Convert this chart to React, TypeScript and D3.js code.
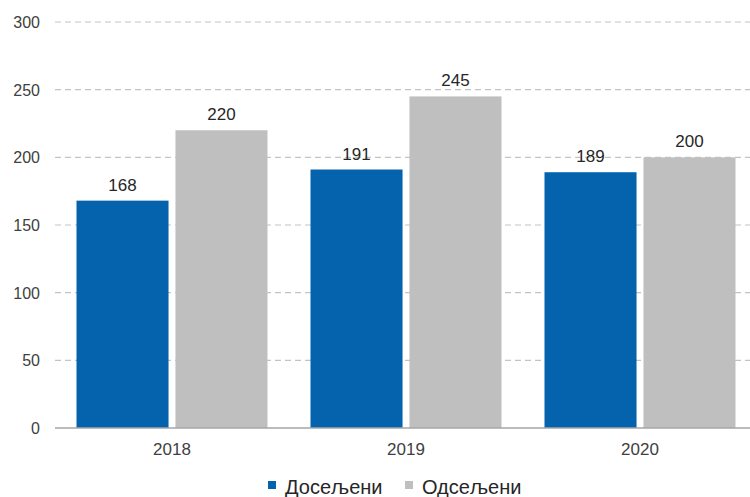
import * as d3 from 'd3'
import React, { useEffect, useRef } from 'react'

const years = ['2018', '2019', '2020']
const seriesNames = ['Досељени', 'Одсељени']
const doseljeni = [168, 191, 189]
const odseljeni = [220, 245, 200]
const yTicks = [0, 50, 100, 150, 200, 250, 300]

const colors = ['#0563AE', '#BFBFBF']

const App = () => {
  const ref = useRef(null)

  useEffect(() => {
    const width = 750
    const height = 497
    const svg = d3.select(ref.current)
    svg.selectAll('*').remove()
    svg.attr('width', width).attr('height', height)

    const font = 'Liberation Sans, Arial, sans-serif'

    const y = d3.scaleLinear().domain([0, 300]).range([428, 22])
    const x0 = d3.scaleBand().domain(years).range([55, 757])
    const x1 = d3
      .scaleBand()
      .domain(seriesNames)
      .range([21.5, 212.5])
      .paddingInner(0.07)

    // gridlines
    svg
      .append('g')
      .selectAll('line')
      .data(yTicks.filter((t) => t > 0))
      .enter()
      .append('line')
      .attr('x1', 55)
      .attr('x2', 757)
      .attr('y1', (d) => y(d))
      .attr('y2', (d) => y(d))
      .attr('stroke', '#C4C4C4')
      .attr('stroke-width', 1.2)
      .attr('stroke-dasharray', '6 4')

    // y labels
    svg
      .append('g')
      .selectAll('text')
      .data(yTicks)
      .enter()
      .append('text')
      .attr('x', 40)
      .attr('y', (d) => y(d) + 6)
      .attr('text-anchor', 'end')
      .attr('font-family', font)
      .attr('font-size', 16)
      .attr('fill', '#404040')
      .text((d) => d)

    const rows = years.map((yr, i) => ({ year: yr, values: [doseljeni[i], odseljeni[i]] }))

    const groups = svg
      .append('g')
      .selectAll('g')
      .data(rows)
      .enter()
      .append('g')
      .attr('transform', (d) => `translate(${x0(d.year)},0)`)

    groups
      .selectAll('rect')
      .data((d) => d.values.map((v, i) => ({ name: seriesNames[i], v, i })))
      .enter()
      .append('rect')
      .attr('x', (d) => x1(d.name)!)
      .attr('width', x1.bandwidth())
      .attr('y', (d) => y(d.v))
      .attr('height', (d) => y(0) - y(d.v))
      .attr('fill', (d) => colors[d.i])

    groups
      .selectAll('text')
      .data((d) => d.values.map((v, i) => ({ name: seriesNames[i], v, i })))
      .enter()
      .append('text')
      .attr('x', (d) => x1(d.name)! + x1.bandwidth() / 2)
      .attr('y', (d) => y(d.v) - 10)
      .attr('text-anchor', 'middle')
      .attr('font-family', font)
      .attr('font-size', 17)
      .attr('fill', '#262626')
      .text((d) => d.v)

    // axis line
    svg
      .append('line')
      .attr('x1', 55)
      .attr('x2', 757)
      .attr('y1', y(0))
      .attr('y2', y(0))
      .attr('stroke', '#A6A6A6')
      .attr('stroke-width', 1.5)

    // x labels
    svg
      .append('g')
      .selectAll('text')
      .data(years)
      .enter()
      .append('text')
      .attr('x', (d) => x0(d)! + x0.bandwidth() / 2)
      .attr('y', 455)
      .attr('text-anchor', 'middle')
      .attr('font-family', font)
      .attr('font-size', 17)
      .attr('fill', '#404040')
      .text((d) => d)

    // legend
    const legendX = [268, 405]
    const legend = svg
      .append('g')
      .selectAll('g')
      .data(seriesNames)
      .enter()
      .append('g')
      .attr('transform', (d, i) => `translate(${legendX[i]},0)`)
    legend
      .append('rect')
      .attr('x', 0)
      .attr('y', 481)
      .attr('width', 8)
      .attr('height', 8)
      .attr('fill', (d, i) => colors[i])
    legend
      .append('text')
      .attr('x', 17)
      .attr('y', 494)
      .attr('font-family', font)
      .attr('font-size', 20)
      .attr('fill', '#262626')
      .text((d) => d)
  }, [])

  return (
    <div style={{ position: 'absolute', left: 0, top: 0, width: 750, height: 497, overflow: 'hidden' }}>
      <svg ref={ref} style={{ display: 'block' }}></svg>
    </div>
  )
}

export default App
